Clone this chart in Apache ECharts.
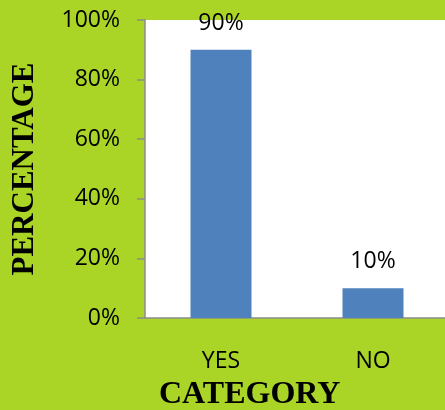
<!DOCTYPE html>
<html>
<head>
<meta charset="utf-8">
<script src="https://cdn.jsdelivr.net/npm/echarts@6/dist/echarts.min.js"></script>
<style>
    html, body { margin: 0; padding: 0; background: #aad426; }
    #chart { width: 445px; height: 410px; }
</style>
</head>
<body>
<div id="chart"></div>
<script>
    const categories = ['YES', 'NO'];
    const percentValues = [90, 10];
    const yTicks = [0, 20, 40, 60, 80, 100];

    const myChart = echarts.init(document.getElementById('chart'));
    const option = {
        backgroundColor: '#aad426',
        animation: false,
        grid: {
            left: 145,
            width: 304,
            top: 20,
            bottom: 92,
            outerBoundsMode: 'none',
            show: true,
            backgroundColor: '#ffffff',
            borderWidth: 0
        },
        graphic: [
            {
                type: 'text',
                left: 159,
                top: 379,
                style: {
                    text: 'CATEGORY',
                    font: 'bold 32px "Liberation Serif"',
                    fill: '#000'
                }
            }
        ],
        xAxis: {
            type: 'category',
            data: categories,
            axisLine: {lineStyle: {color: '#8c8c8c', width: 1.5}},
            axisTick: {show: false},
            axisLabel: {
                color: '#000',
                fontSize: 23,
                fontFamily: 'Open Sans',
                margin: 32
            }
        },
        yAxis: {
            type: 'value',
            min: yTicks[0],
            max: yTicks[yTicks.length - 1],
            interval: 20,
            name: 'PERCENTAGE',
            nameLocation: 'middle',
            nameGap: 105,
            nameTextStyle: {
                color: '#000',
                fontSize: 31,
                fontWeight: 'bold',
                fontFamily: 'Liberation Serif'
            },
            axisLine: {show: true, lineStyle: {color: '#8c8c8c', width: 1.5}},
            axisTick: {show: true, length: 8, lineStyle: {color: '#8c8c8c', width: 1.5}},
            splitLine: {show: false},
            axisLabel: {
                color: '#000',
                fontSize: 23,
                fontFamily: 'Open Sans',
                margin: 25,
                formatter: '{value}%'
            }
        },
        series: [
            {
                type: 'bar',
                data: percentValues,
                barWidth: 61,
                itemStyle: {color: '#4f81bd'},
                label: {
                    show: true,
                    position: 'top',
                    distance: 15,
                    color: '#000',
                    fontSize: 23,
                    fontFamily: 'Open Sans',
                    formatter: '{c}%'
                }
            }
        ]
    };
    myChart.setOption(option);
</script>
</body>
</html>
